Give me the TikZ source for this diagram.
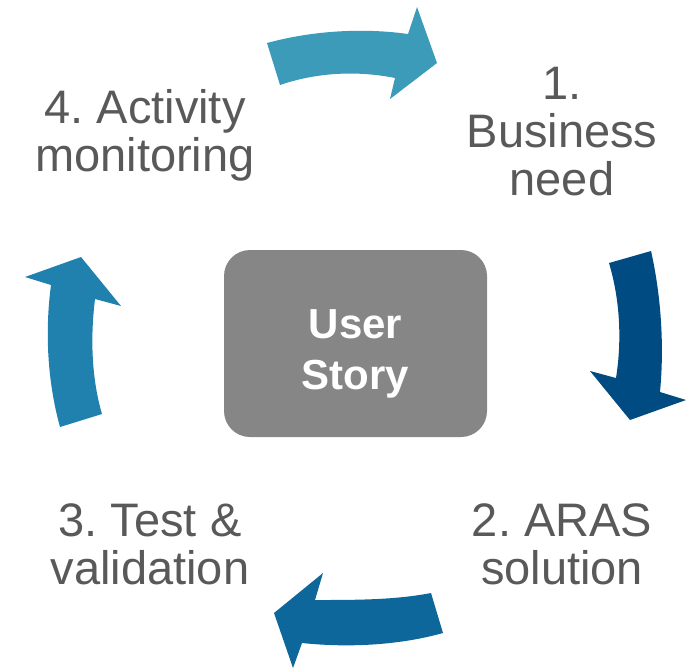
\documentclass[tikz,border=0pt]{standalone}
\usepackage{fontspec}
\setmainfont{Liberation Sans}
\frenchspacing
\definecolor{cTop}{HTML}{3D9BBA}
\definecolor{cRight}{HTML}{004C82}
\definecolor{cBottom}{HTML}{0E679B}
\definecolor{cLeft}{HTML}{2181AE}
\definecolor{labelgray}{HTML}{595959}
\definecolor{boxgray}{HTML}{868686}
\tikzset{
  lbl/.style={text=labelgray, align=center, font=\fontsize{47}{48}\selectfont, inner sep=0pt},
  centerbox/.style={fill=boxgray, rounded corners=26pt, minimum width=263pt, minimum height=187pt},
  boxtext/.style={text=white, align=center, inner sep=0pt, font=\fontsize{42}{51}\selectfont\bfseries}
}
\begin{document}
\begin{tikzpicture}[x=1pt,y=-1pt]
\useasboundingbox (0,0) rectangle (700,670);
% center box
\node[centerbox] (story) at (355.5,343.5) {};
\node[boxtext] (storytext) at ([yshift=-10pt]story.center) {User\\Story};
% labels
\node[lbl] (l1) at (562,132) {1.\\Business\\need};
\node[lbl] (l2) at (562,544) {2. ARAS\\solution};
\node[lbl] (l3) at (150,544) {3. Test \&\\validation};
\node[lbl] (l4) at (145,135) {4. Activity\\monitoring};
% arrows
\fill[cTop] (267,43) .. controls (315,30) and (365,28) .. (408,34) -- (417,7) -- (437,63) -- (390,99) -- (395,78) .. controls (355,70) and (315,73) .. (280,85) -- cycle;
\fill[cRight] (609,263) -- (651,251) .. controls (662,300) and (664,350) .. (660,392) -- (686,400) -- (630,420) -- (590,371) -- (616,378) .. controls (622,340) and (620,300) .. (609,263) -- cycle;
\fill[cBottom] (431,593) -- (443,633) .. controls (400,645) and (350,648) .. (302,643) -- (293,668) -- (274,613) -- (323,573) -- (315,600) .. controls (355,600) and (395,600) .. (431,593) -- cycle;
\fill[cLeft] (60,427) -- (102,414) .. controls (92,380) and (90,340) .. (95,299) -- (121,306) -- (81,257) -- (25,277) -- (51,285) .. controls (45,330) and (47,380) .. (60,427) -- cycle;
\end{tikzpicture}
\end{document}
